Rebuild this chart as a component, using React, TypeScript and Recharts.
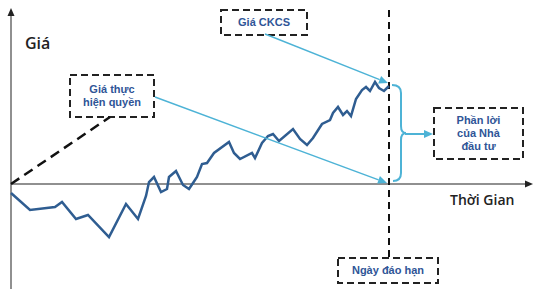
import React from 'react';
import { LineChart, Line, XAxis, YAxis, ReferenceLine, ReferenceArea, Label } from 'recharts';

// time (0 = start) and underlying price (0 = strike level)
const times = [0, 19, 44, 51, 65, 77, 98, 115, 127, 135, 138, 143, 150, 156, 158, 165, 172, 178, 182, 186, 191, 196, 203, 218, 223, 229, 241, 244, 251, 257, 262, 268, 282, 289, 296, 302, 311, 319, 322, 327, 332, 336, 340, 345, 351, 355, 359, 364, 368, 373, 378];
const prices = [-9, -26, -23, -18, -35, -31, -53, -20, -35, -12, 2, 7, -8, -5, 7, 13, -1, -5, 1, 7, 20, 21, 31, 42, 31, 25, 31, 26, 41, 48, 50, 43, 55, 45, 39, 46, 60, 64, 71, 77, 69, 73, 68, 85, 94, 97, 93, 102, 96, 93, 98];

const maturity = 378;
const payoffEnd = { t: 99, p: 67 };

const strikeLabel = ['Giá thực', 'hiện quyền'];
const spotLabel = ['Giá CKCS'];
const profitLabel = ['Phần lời', 'của Nhà', 'đầu tư'];
const maturityLabel = ['Ngày đáo hạn'];

const series = times.map((t, i) => ({ t, p: prices[i] }));

const BLUE = '#2F5D91';
const CYAN = '#4DB3D6';
const TEXT_BLUE = '#2F5597';

const arrowShape = (color: string, width: number, head = color, len = 9, half = 4) => (props: any) => {
  const { x1, y1, x2, y2 } = props;
  const a = Math.atan2(y2 - y1, x2 - x1);
  const bx = x2 - len * Math.cos(a);
  const by = y2 - len * Math.sin(a);
  const px = -Math.sin(a) * half;
  const py = Math.cos(a) * half;
  return (
    <g>
      <line x1={x1} y1={y1} x2={bx} y2={by} stroke={color} strokeWidth={width} />
      <polygon points={`${x2},${y2} ${bx + px},${by + py} ${bx - px},${by - py}`} fill={head} />
    </g>
  );
};

const braceShape = (props: any) => {
  const { x1, y1, x2, y2 } = props;
  const xr = Math.max(x1, x2) + 8;
  const ym = (y1 + y2) / 2;
  const d = `M${x1},${y1} Q${xr},${y1} ${xr},${y1 + 8} L${xr},${ym - 7} Q${xr},${ym} ${xr + 5},${ym}`
    + ` M${xr + 5},${ym} Q${xr},${ym} ${xr},${ym + 7} L${xr},${y2 - 8} Q${xr},${y2} ${x2},${y2}`;
  return <path d={d} fill="none" stroke={CYAN} strokeWidth={2} />;
};

const boxText = (lines: string[]) => (props: any) => {
  const { x, y, width, height } = props.viewBox;
  const cx = x + width / 2;
  const lh = 13;
  const start = y + height / 2 - ((lines.length - 1) * lh) / 2;
  return (
    <text textAnchor="middle" fontFamily="'Liberation Sans', Arial, sans-serif" fontWeight="bold" fontSize={11} fill={TEXT_BLUE}>
      {lines.map((l, i) => (
        <tspan key={i} x={cx} y={start + i * lh} dy="0.35em">{l}</tspan>
      ))}
    </text>
  );
};

const titleText = (value: string, size: number) => (props: any) => {
  const { x, y, height } = props.viewBox;
  return (
    <text x={x} y={y + height / 2} dy="0.35em" fontFamily="'Open Sans', sans-serif" fontWeight={600} fontSize={size} fill="#222">
      {value}
    </text>
  );
};

const boxStyle = { stroke: '#222', strokeWidth: 2, strokeDasharray: '7 4', fill: 'none', fillOpacity: 0 };

export default function App() {
  return (
    <div style={{ position: 'absolute', left: 0, top: 0, width: 534, height: 289, background: '#fff' }}>
      <LineChart width={534} height={289} data={series} margin={{ top: 0, right: 0, bottom: 0, left: 0 }}>
        <XAxis type="number" dataKey="t" domain={[-11, 523]} allowDataOverflow hide />
        <YAxis type="number" domain={[-105, 184]} allowDataOverflow hide />

        {/* axes */}
        <ReferenceLine segment={[{ x: 0, y: -105 }, { x: 0, y: 176 }]} shape={arrowShape('#6b6b6b', 1.5, '#222', 8, 3.5)} />
        <ReferenceLine segment={[{ x: 0, y: 0 }, { x: 522, y: 0 }]} shape={arrowShape('#6b6b6b', 1.5, '#222', 8, 3.5)} />

        {/* payoff & maturity */}
        <ReferenceLine segment={[{ x: 0, y: 0 }, { x: payoffEnd.t, y: payoffEnd.p }]} stroke="#111" strokeWidth={2.5} strokeDasharray="10 6" />
        <ReferenceLine segment={[{ x: maturity, y: 174 }, { x: maturity, y: -74 }]} stroke="#111" strokeWidth={2} strokeDasharray="7 5" />

        {/* boxes */}
        <ReferenceArea x1={59} x2={143} y1={67} y2={109} {...boxStyle}>
          <Label content={boxText(strikeLabel)} />
        </ReferenceArea>
        <ReferenceArea x1={210} x2={296} y1={149} y2={174} {...boxStyle}>
          <Label content={boxText(spotLabel)} />
        </ReferenceArea>
        <ReferenceArea x1={423} x2={512} y1={25} y2={76} {...boxStyle}>
          <Label content={boxText(profitLabel)} />
        </ReferenceArea>
        <ReferenceArea x1={327} x2={427} y1={-99} y2={-74} {...boxStyle}>
          <Label content={boxText(maturityLabel)} />
        </ReferenceArea>

        {/* axis titles */}
        <ReferenceArea x1={14} x2={44} y1={132} y2={150} stroke="none" fill="none">
          <Label content={titleText('Giá', 16)} />
        </ReferenceArea>
        <ReferenceArea x1={439} x2={510} y1={-25} y2={-8} stroke="none" fill="none">
          <Label content={titleText('Thời Gian', 14)} />
        </ReferenceArea>

        <Line type="linear" dataKey="p" stroke={BLUE} strokeWidth={2.5} dot={false} activeDot={false} isAnimationActive={false} />

        {/* annotation arrows */}
        <ReferenceLine segment={[{ x: 254, y: 150 }, { x: 377, y: 101 }]} shape={arrowShape(CYAN, 1.5)} />
        <ReferenceLine segment={[{ x: 144, y: 87 }, { x: 376, y: 1 }]} shape={arrowShape(CYAN, 1.5)} />
        <ReferenceLine segment={[{ x: 381, y: 99 }, { x: 382, y: 3 }]} shape={braceShape} />
        <ReferenceLine segment={[{ x: 394, y: 50 }, { x: 422, y: 50 }]} shape={arrowShape(CYAN, 2)} />
      </LineChart>
    </div>
  );
}
